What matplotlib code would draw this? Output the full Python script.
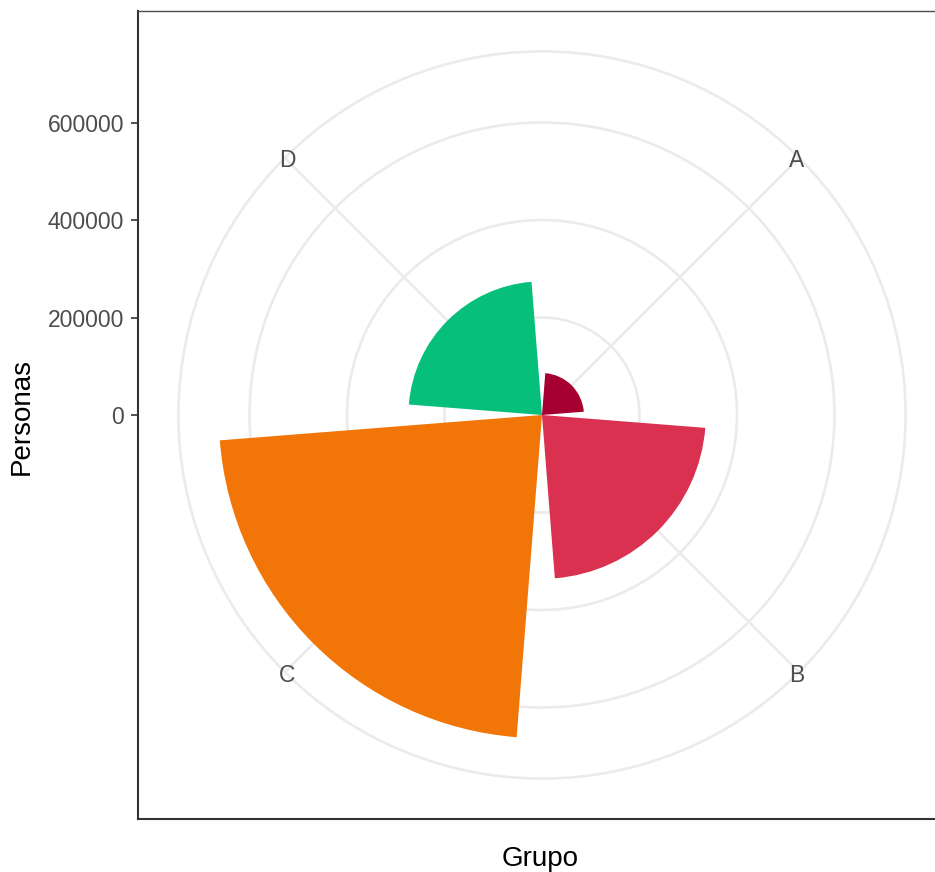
"""
Barras en coordenadas polares (estilo ggplot coord_polar) con matplotlib
"""
import numpy as np
import matplotlib
matplotlib.use('Agg')
import matplotlib.pyplot as plt
from matplotlib.patches import Wedge, Circle

plt.rcParams['font.family'] = ['Liberation Sans', 'DejaVu Sans']

# datos
grupos = ['A', 'B', 'C', 'D']
personas = [86000, 336000, 663000, 274000]
colores = ['#A50030', '#DB3151', '#F27507', '#05BF7A']
y_ticks = [0, 200000, 400000, 600000]


def main():
    W, H = 935, 872
    fig = plt.figure(figsize=(W / 100, H / 100), dpi=100)

    # panel cuadrado como en coord_polar (808 px)
    lado = 808
    ax = fig.add_axes([138 / W, (H - 819) / H, lado / W, lado / H])

    r_max = max(personas)
    escala = r_max / 0.4          # 1 unidad de panel en unidades de datos
    R = 0.5 * escala
    px = 2 * R / lado             # un pixel en unidades de datos
    ax.set_xlim(-R, R)
    ax.set_ylim(-R, R)

    gris = '#EBEBEB'
    # circulos de la rejilla + circulo exterior (0.45)
    for v in y_ticks[1:] + [0.45 * escala]:
        ax.add_patch(Circle((0, 0), v, fill=False, edgecolor=gris,
                            linewidth=1.9, zorder=1))
    # radios hacia cada categoria
    n = len(grupos)
    centros = [360 / n * (i + 0.5) for i in range(n)]   # grados, sentido horario desde arriba
    for phi in centros:
        a = np.deg2rad(90 - phi)
        ax.plot([0, 0.45 * escala * np.cos(a)], [0, 0.45 * escala * np.sin(a)],
                color=gris, linewidth=1.9, zorder=1, solid_capstyle='butt')

    # barras (ancho 0.9)
    ancho = 360 / n * 0.9
    for phi, val, col in zip(centros, personas, colores):
        ax.add_patch(Wedge((0, 0), val, 90 - (phi + ancho / 2), 90 - (phi - ancho / 2),
                           facecolor=col, edgecolor='none', zorder=2))

    # etiquetas de theta (las de abajo quedan un poco mas bajas, como en ggplot)
    for phi, g in zip(centros, grupos):
        a = np.deg2rad(90 - phi)
        r = 0.446 * escala
        dy = -6 * px if np.sin(a) < 0 else 0
        ax.text(r * np.cos(a), r * np.sin(a) + dy, g, ha='center', va='center',
                fontsize=16.5, color='#4D4D4D', zorder=3)

    ax.set_xticks([])
    ax.set_yticks(y_ticks)
    ax.set_yticklabels([str(v) for v in y_ticks])
    ax.tick_params(axis='y', length=5, width=1.2, color='#333333',
                   labelsize=16.5, labelcolor='#4D4D4D', pad=5)

    for s in ['left', 'bottom']:
        ax.spines[s].set_linewidth(1.5)
        ax.spines[s].set_color('#333333')
    for s in ['top', 'right']:
        ax.spines[s].set_linewidth(1.0)
        ax.spines[s].set_color('#4D4D4D')

    fig.text(540 / W, 1 - 859 / H, 'Grupo', ha='center', va='center', fontsize=20)
    fig.text(22 / W, 1 - 416 / H, 'Personas', ha='center', va='center',
             rotation=90, fontsize=20)

    plt.savefig('out.png', dpi=100, facecolor='white')
    plt.close()


if __name__ == "__main__":
    main()
